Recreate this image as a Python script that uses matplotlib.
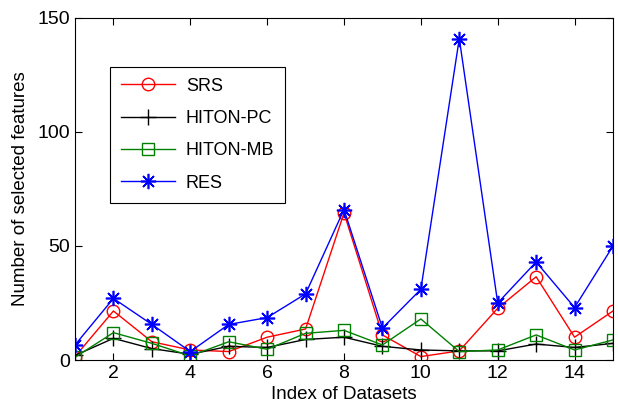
import matplotlib.pyplot as plt
import numpy as np

plt.rcParams['font.family'] = ['Liberation Sans', 'DejaVu Sans']

idx = np.arange(1, 16)
srs = [1.5, 21.5, 8, 4.4, 3.7, 10, 13.6, 64.5, 11, 1.5, 4, 22.7, 36.5, 10, 21.5]
hiton_pc = [2, 9.5, 5, 2.5, 6, 5.5, 9, 10, 6, 4.4, 4, 4, 7, 5.5, 7.3]
hiton_mb = [1.2, 12, 7.3, 1.8, 8, 4.7, 11.7, 13, 6.6, 18, 3.7, 4.4, 11, 4.4, 8.8]
res = [6.6, 27, 15.6, 3.7, 15.6, 18.6, 29, 66, 14, 31, 141, 25, 43, 23, 50]

fig = plt.figure(figsize=(6.18, 4.19), dpi=100)
ax = fig.add_axes([75/618, 1-360/419, 538/618, 342/419])

ax.plot(idx, srs, color='red', marker='o', mfc='none', ms=9, lw=1, label='SRS')
ax.plot(idx, hiton_pc, color='black', marker='+', ms=11, lw=1, label='HITON-PC')
ax.plot(idx, hiton_mb, color='green', marker='s', mfc='none', ms=9, lw=1, label='HITON-MB')
ax.plot(idx, res, color='blue', marker=(8, 2, 0), ms=11, mew=1.2, lw=1, label='RES')

ax.set_xlim(1, 15)
ax.set_ylim(0, 150)
ax.set_xticks(range(2, 15, 2))
ax.set_yticks([0, 50, 100, 150])
ax.tick_params(direction='in', top=True, right=True, labelsize=14, length=5)
ax.set_xlabel('Index of Datasets', fontsize=13.5, labelpad=3)
ax.set_ylabel('Number of selected features', fontsize=13.5, labelpad=6)

leg = ax.legend(loc='upper left', bbox_to_anchor=(0.065, 0.857), fontsize=13,
                fancybox=False, edgecolor='black', framealpha=1, handlelength=3.0,
                borderpad=0.6, labelspacing=0.85, borderaxespad=0, handletextpad=0.6)
leg.get_frame().set_linewidth(0.8)

fig.savefig('out.png', dpi=100)
